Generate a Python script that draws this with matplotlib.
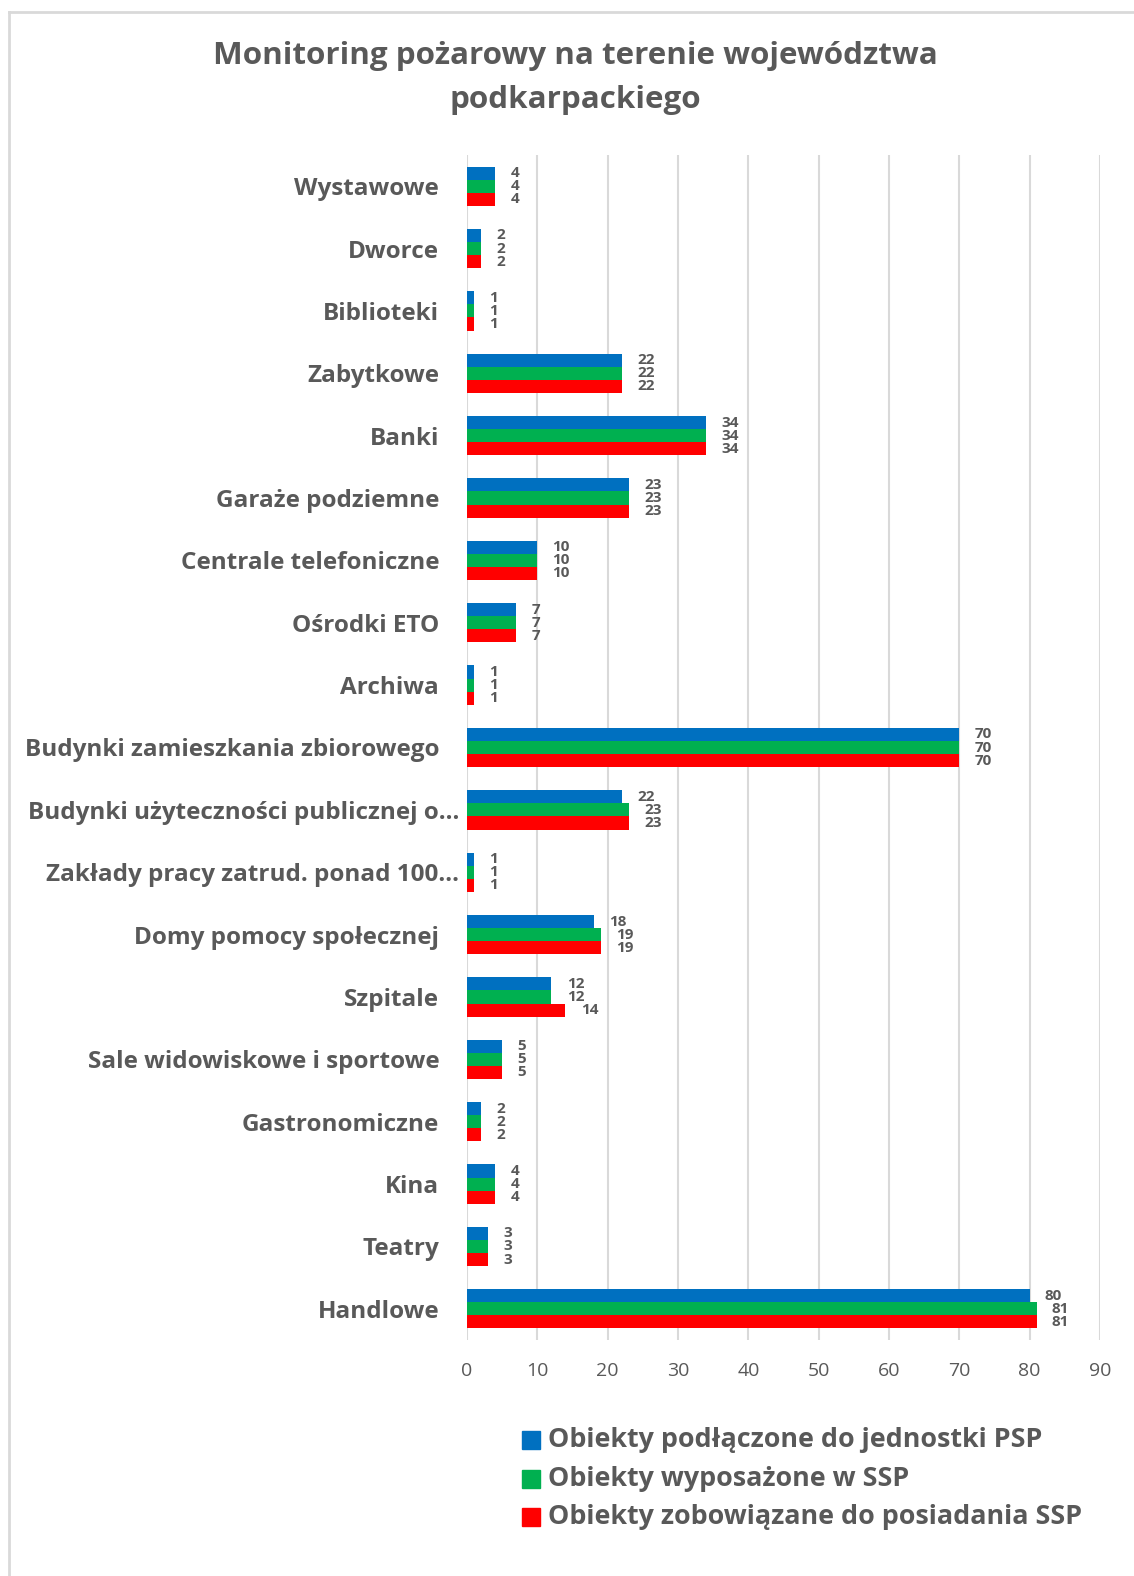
import matplotlib
matplotlib.use("Agg")
import matplotlib.pyplot as plt
import numpy as np
from matplotlib.lines import Line2D
from matplotlib.transforms import ScaledTranslation

# Data (top to bottom as shown)
categories = ["Wystawowe", "Dworce", "Biblioteki", "Zabytkowe", "Banki",
              "Garaże podziemne", "Centrale telefoniczne", "Ośrodki ETO", "Archiwa",
              "Budynki zamieszkania zbiorowego", "Budynki użyteczności publicznej o…",
              "Zakłady pracy zatrud. ponad 100…", "Domy pomocy społecznej", "Szpitale",
              "Sale widowiskowe i sportowe", "Gastronomiczne", "Kina", "Teatry", "Handlowe"]
psp = [4, 2, 1, 22, 34, 23, 10, 7, 1, 70, 22, 1, 18, 12, 5, 2, 4, 3, 80]
wyposazone = [4, 2, 1, 22, 34, 23, 10, 7, 1, 70, 23, 1, 19, 12, 5, 2, 4, 3, 81]
zobowiazane = [4, 2, 1, 22, 34, 23, 10, 7, 1, 70, 23, 1, 19, 14, 5, 2, 4, 3, 81]
series_names = ["Obiekty podłączone do jednostki PSP",
                "Obiekty wyposażone w SSP",
                "Obiekty zobowiązane do posiadania SSP"]
colors = ["#0070C0", "#00B050", "#FF0000"]
xticks = list(range(0, 100, 10))

FONT = "Open Sans"
GRAY = "#595959"
plt.rcParams['font.family'] = [FONT, 'DejaVu Sans']

W, H = 1134, 1576
fig = plt.figure(figsize=(W / 100, H / 100), dpi=100)

# border (left and top visible)
fig.add_artist(Line2D([9 / W, 9 / W], [0, 1 - 12 / H], color="#D9D9D9", lw=2))
fig.add_artist(Line2D([9 / W, 1.0], [1 - 12 / H, 1 - 12 / H], color="#D9D9D9", lw=2))

ax_l, ax_r = 467, 1100
ax_t, ax_b = 155, 1340
ax = fig.add_axes([ax_l / W, 1 - ax_b / H, (ax_r - ax_l) / W, (ax_b - ax_t) / H])

n = len(categories)
y = np.arange(n)
bh = 0.21
series = [psp, wyposazone, zobowiazane]
for i, (vals, c) in enumerate(zip(series, colors)):
    offs = (i - 1) * bh
    ax.barh(y + offs, vals, height=bh, color=c, zorder=3)
    for yy, v in zip(y + offs, vals):
        ax.annotate(str(v), (v, yy), xytext=(11, 0), textcoords="offset points",
                    ha="left", va="center", fontsize=11, fontweight="bold",
                    color=GRAY, zorder=4)

ax.set_ylim(n - 0.5, -0.5)
ax.set_xlim(0, 90)
ax.set_xticks(xticks)
ax.set_xticklabels([str(t) for t in xticks], fontsize=14, color=GRAY)
ax.set_yticks(y)
ax.set_yticklabels(categories, fontsize=17.5, fontweight="bold", color=GRAY)
ax.tick_params(axis="both", length=0)
ax.tick_params(axis="x", pad=16)
ax.tick_params(axis="y", pad=20)
for lab in ax.get_yticklabels():
    if lab.get_text().endswith("…"):
        lab.set_transform(lab.get_transform() + ScaledTranslation(0.2, 0, fig.dpi_scale_trans))
ax.grid(axis="x", color="#D9D9D9", lw=1.5, zorder=0)
for s in ax.spines.values():
    s.set_visible(False)

fig.text(575 / W, 1 - 78 / H, "Monitoring pożarowy na terenie województwa\npodkarpackiego",
         ha="center", va="center", fontsize=22.6, fontweight="bold", color=GRAY,
         linespacing=1.6)

# legend
for i, (name, c) in enumerate(zip(series_names, colors)):
    yy = 1440 + i * 38.5
    fig.patches.append(plt.Rectangle((522 / W, 1 - (yy + 9) / H), 18 / W, 18 / H,
                                     transform=fig.transFigure, color=c))
    fig.text(548 / W, 1 - yy / H, name, ha="left", va="center", fontsize=19.4,
             fontweight="bold", color=GRAY)

fig.savefig("out.png", dpi=100, facecolor="white")
